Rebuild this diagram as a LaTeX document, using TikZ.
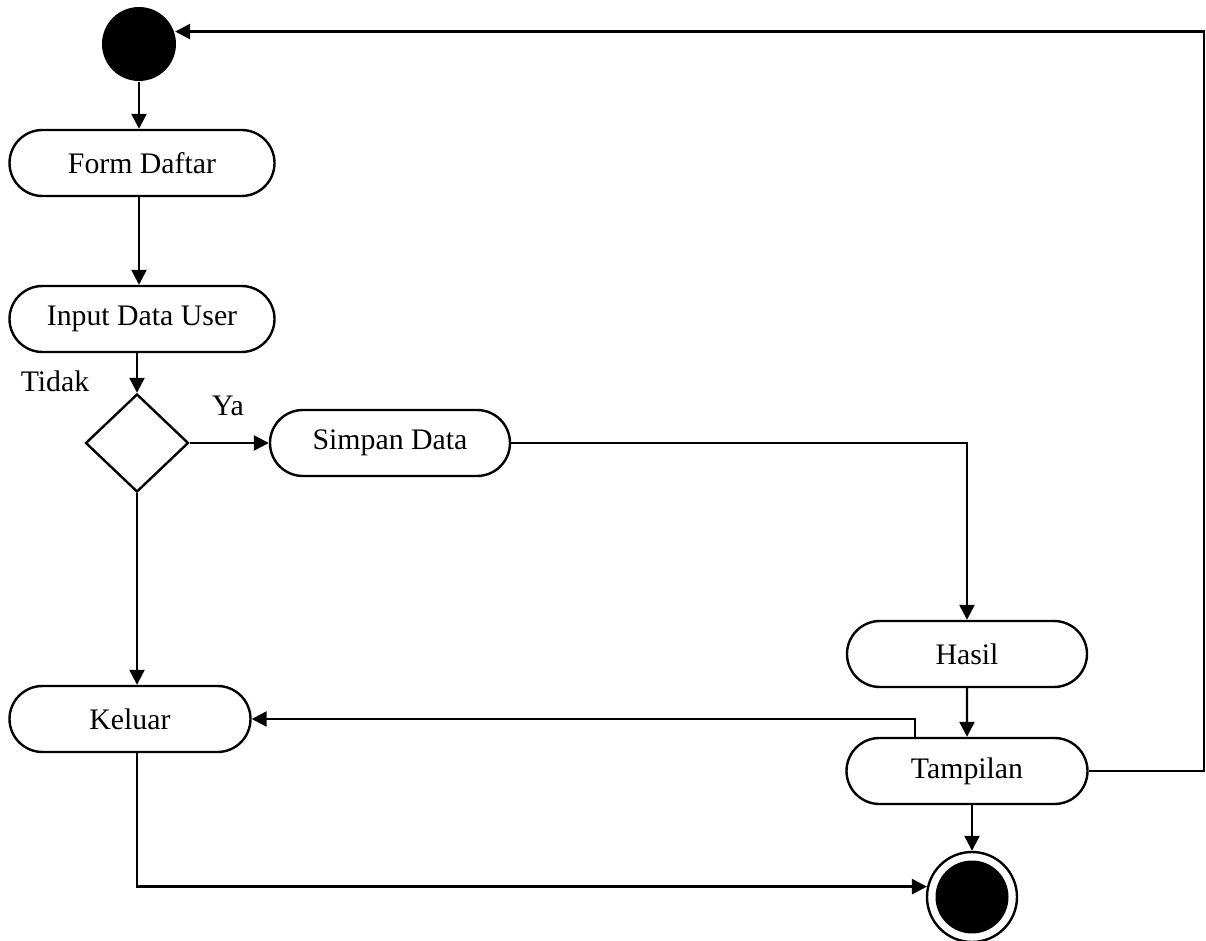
\documentclass[tikz,border=0pt]{standalone}
\usepackage{fontspec}
\setmainfont{Liberation Serif}
\usetikzlibrary{shapes.geometric,shapes.misc,arrows.meta}

\begin{document}
\begin{tikzpicture}[x=0.5pt,y=-0.5pt,line width=1.2pt,
        font=\fontsize{14.9}{17}\selectfont,
        aktivitas/.style={draw,rounded rectangle,minimum width=130pt,minimum height=33pt,inner sep=0pt},
        arr/.style={-{Triangle[length=7.5pt,width=7.5pt]}}]
    \useasboundingbox (0,0) rectangle (1206,941);

    % nodes
    \node[circle,fill=black,minimum size=37pt,inner sep=0pt] (mulai) at (139,44) {};
    \node[aktivitas,minimum width=132.5pt] (form) at (142,163) {Form Daftar};
    \node[aktivitas,minimum width=132.5pt] (input) at (142,319) {Input Data User};
    \node[draw,diamond,minimum width=51.5pt,minimum height=49pt,inner sep=0pt] (cek) at (137,443) {};
    \node[aktivitas,minimum width=120pt] (simpan) at (390,443) {Simpan Data};
    \node[aktivitas,minimum width=120pt] (hasil) at (967,654) {Hasil};
    \node[aktivitas,minimum width=120.5pt] (tampilan) at (967,771) {Tampilan};
    \node[aktivitas,minimum width=120.5pt] (keluar) at (130,719) {Keluar};
    \node[draw,circle,minimum size=45pt,inner sep=0pt] (selesai) at (972,897) {};
    \node[circle,fill=black,minimum size=36.5pt,inner sep=0pt] at (selesai) {};

    % labels
    \node (tidak) at (55,381) {Tidak};
    \node (ya) at (228,406) {Ya};

    % arrows
    \draw[arr] (mulai) -- (mulai |- form.north);
    \draw[arr] (mulai |- form.south) -- (mulai |- input.north);
    \draw[arr] (cek |- input.south) -- (cek.north);
    \draw[arr] (cek.east) -- (simpan.west);
    \draw[arr] (cek.south) -- (cek |- keluar.north);
    \draw[arr] (simpan.east) -| (hasil.north);
    \draw[arr] (hasil) -- (tampilan);
    \draw[arr] (tampilan.north) ++(-52,0) |- (keluar.east);
    \draw[arr] (tampilan.east) -- ++(115,0) |- (mulai.19);
    \draw[arr] (selesai |- tampilan.south) -- (selesai.north);
    \draw[arr] (cek |- keluar.south) |- (selesai.167);
\end{tikzpicture}
\end{document}
